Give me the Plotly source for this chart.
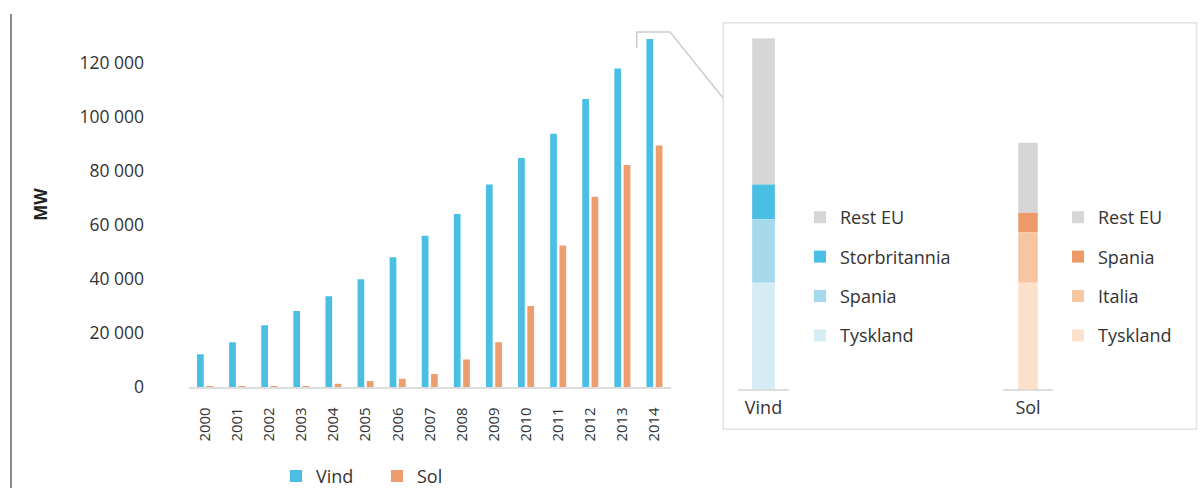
import numpy as np
import plotly.graph_objects as go

# ---------------- data ----------------
years = [str(y) for y in range(2000, 2015)]
wind_mw = [12200, 16600, 22900, 28200, 33600, 39900, 48000, 56000, 64000,
           74900, 84700, 93700, 106500, 117800, 128700]
solar_mw = [300, 400, 400, 500, 1300, 2300, 3200, 4900, 10300, 16600,
            30000, 52400, 70400, 82100, 89300]

wind_countries = ["Tyskland", "Spania", "Storbritannia", "Rest EU"]   # bottom -> top
wind_country_mw = [39400, 23400, 12900, 54000]
solar_countries = ["Tyskland", "Italia", "Spania", "Rest EU"]         # bottom -> top
solar_country_mw = [39400, 18600, 7200, 25900]

y_ticks = [0, 20000, 40000, 60000, 80000, 100000, 120000]

# ---------------- styles ----------------
W, H = 1203, 488
FONT = "Open Sans"
TXT = "#333333"
BLUE = "#4BBFE3"
ORANGE = "#EE9E6E"
wind_colors = ["#D5ECF5", "#A7D9EC", "#4BBFE3", "#D6D6D6"]
solar_colors = ["#FCE0CA", "#F6C6A3", "#EE9A68", "#D6D6D6"]


def fx(p):
    return p / W


def fy(p):
    return 1 - p / H


fig = go.Figure()

# main grouped bars (manual offsets, overlay mode)
fig.add_trace(go.Bar(x=years, y=wind_mw, name="Vind", marker_color=BLUE,
                     marker_line_width=0, offset=-0.25, width=0.21,
                     legend="legend", xaxis="x", yaxis="y"))
fig.add_trace(go.Bar(x=years, y=solar_mw, name="Sol", marker_color=ORANGE,
                     marker_line_width=0, offset=0.04, width=0.21,
                     legend="legend", xaxis="x", yaxis="y"))

# detail stacks
w_vals = np.array(wind_country_mw)
w_base = np.cumsum(w_vals) - w_vals
for i in reversed(range(len(wind_countries))):
    fig.add_trace(go.Bar(x=["Vind"], y=[w_vals[i]], base=[w_base[i]],
                         name=wind_countries[i], marker_color=wind_colors[i],
                         marker_line_width=0, width=0.445,
                         legend="legend2", legendgroup="w" + str(i),
                         xaxis="x2", yaxis="y2"))
s_vals = np.array(solar_country_mw)
s_base = np.cumsum(s_vals) - s_vals
for i in reversed(range(len(solar_countries))):
    fig.add_trace(go.Bar(x=["Sol"], y=[s_vals[i]], base=[s_base[i]],
                         name=solar_countries[i], marker_color=solar_colors[i],
                         marker_line_width=0, width=0.39,
                         legend="legend3", legendgroup="s" + str(i),
                         xaxis="x3", yaxis="y2"))

main_range_top = (387.3 - 21.9) / 2.707 * 1000
panel_range_top = (389.3 - 21.9) / 2.707 * 1000

fig.update_layout(
    width=W, height=H,
    margin=dict(l=0, r=0, t=0, b=0, autoexpand=False),
    paper_bgcolor="white", plot_bgcolor="white",
    barmode="overlay",
    separators=", ",
    font=dict(family=FONT, color=TXT, size=17),
    xaxis=dict(domain=[fx(189), fx(670.5)], type="category",
               showline=True, linecolor="#DDDDDD", linewidth=2,
               showgrid=False, ticks="", tickangle=-90,
               tickfont=dict(size=15, color=TXT), ticklabelstandoff=12,
               automargin=False, anchor="y"),
    yaxis=dict(domain=[fy(387.3), fy(21.9)], range=[0, main_range_top],
               showline=False, showgrid=False, zeroline=False,
               tickvals=y_ticks, tickformat=",d",
               tickfont=dict(size=17.5, color=TXT), ticklabelstandoff=44,
               title=dict(text="<b>MW</b>", font=dict(size=17, color="#222"),
                          standoff=27),
               automargin=False, anchor="x"),
    xaxis2=dict(domain=[fx(738), fx(789)], type="category",
                showline=True, linecolor="#DDDDDD", linewidth=2,
                showgrid=False, ticks="", tickfont=dict(size=18, color=TXT),
                ticklabelstandoff=1, automargin=False, anchor="y2"),
    xaxis3=dict(domain=[fx(1003), fx(1053)], type="category",
                showline=True, linecolor="#DDDDDD", linewidth=2,
                showgrid=False, ticks="", tickfont=dict(size=18, color=TXT),
                ticklabelstandoff=1, automargin=False, anchor="y2"),
    yaxis2=dict(domain=[fy(389.3), fy(21.9)], range=[0, panel_range_top],
                visible=False, anchor="x2"),
    legend=dict(orientation="h", x=fx(276), xanchor="left",
                y=-0.014, yanchor="bottom", entrywidth=56,
                font=dict(size=18, color=TXT), bgcolor="rgba(0,0,0,0)"),
    legend2=dict(orientation="v", x=fx(800), xanchor="left",
                 y=fy(199), yanchor="top", traceorder="grouped",
                 tracegroupgap=13, font=dict(size=18, color=TXT),
                 bgcolor="rgba(0,0,0,0)"),
    legend3=dict(orientation="v", x=fx(1058), xanchor="left",
                 y=fy(199), yanchor="top", traceorder="grouped",
                 tracegroupgap=13, font=dict(size=18, color=TXT),
                 bgcolor="rgba(0,0,0,0)"),
    shapes=[
        # left rule
        dict(type="line", xref="paper", yref="paper",
             x0=fx(11), x1=fx(11), y0=fy(14), y1=fy(488),
             line=dict(color="#666666", width=1.5)),
        # detail box
        dict(type="rect", xref="paper", yref="paper",
             x0=fx(723.3), x1=fx(1196.5), y0=fy(429.3), y1=fy(22.7),
             line=dict(color="#E2E2E2", width=1.5), fillcolor="rgba(0,0,0,0)",
             layer="below"),
        # connector bracket
        dict(type="path", xref="paper", yref="paper",
             path="M {} {} L {} {} L {} {} L {} {}".format(
                 fx(636.7), fy(48), fx(636.7), fy(32), fx(670), fy(32),
                 fx(723.3), fy(98.3)),
             line=dict(color="#CCCCCC", width=1.5)),
    ],
)

fig.write_html("out.html")
